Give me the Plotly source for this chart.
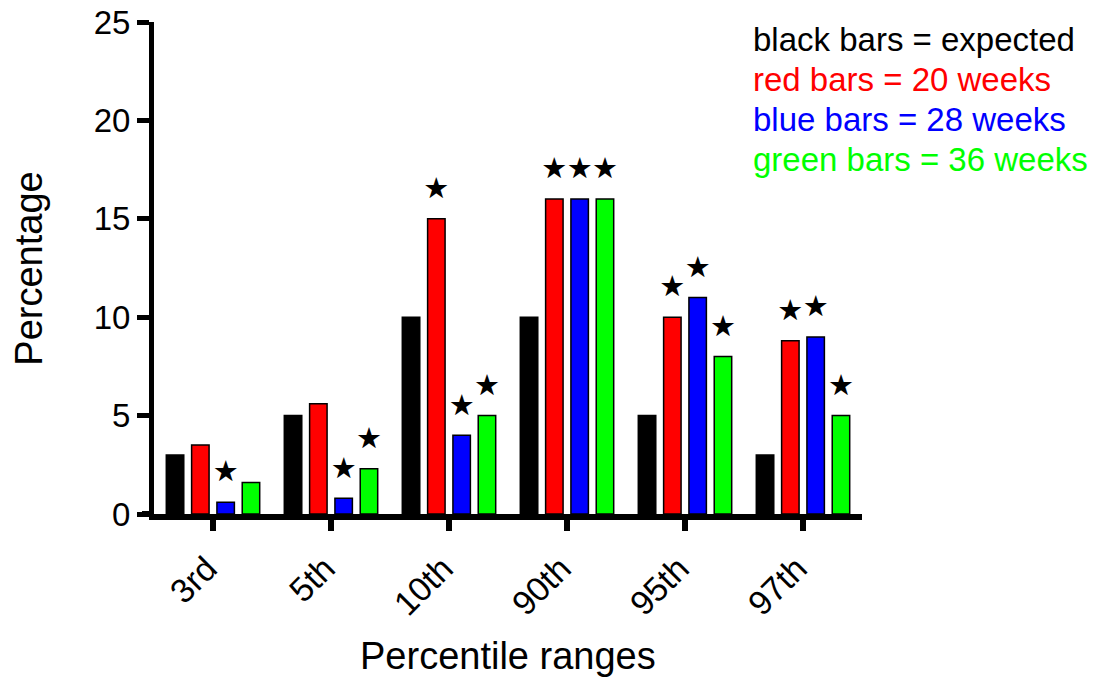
import plotly.graph_objects as go

categories = ["3rd", "5th", "10th", "90th", "95th", "97th"]
expected = [3, 5, 10, 10, 5, 3]
weeks20 = [3.5, 5.6, 15, 16, 10, 8.8]
weeks28 = [0.6, 0.8, 4, 16, 11, 9]
weeks36 = [1.6, 2.3, 5, 16, 8, 5]
star_expected = [0, 0, 0, 0, 0, 0]
star_20 = [0, 0, 1, 1, 1, 1]
star_28 = [1, 1, 1, 1, 1, 1]
star_36 = [0, 1, 1, 1, 1, 1]
y_ticks = [0, 5, 10, 15, 20, 25]
legend_lines = ["black bars = expected", "red bars = 20 weeks",
                "blue bars = 28 weeks", "green bars = 36 weeks"]

series = [
    ("expected", expected, star_expected, "#000000"),
    ("20 weeks", weeks20, star_20, "#FF0000"),
    ("28 weeks", weeks28, star_28, "#0000FF"),
    ("36 weeks", weeks36, star_36, "#00FF00"),
]

FONT = "Liberation Sans, Arial, sans-serif"

fig = go.Figure()
for i, (name, vals, stars, col) in enumerate(series):
    fig.add_trace(go.Bar(
        x=categories, y=vals, name=name,
        offsetgroup=str(i),
        marker=dict(color=col, line=dict(color="#000000", width=1.5)),
        showlegend=False,
    ))
for i, (name, vals, stars, col) in enumerate(series):
    fig.add_trace(go.Scatter(
        x=categories, y=[v if s else None for v, s in zip(vals, stars)],
        name=name + " significance",
        offsetgroup=str(i),
        mode="markers+text",
        marker=dict(size=20, color="rgba(0,0,0,0)"),
        text=["★" if s else "" for s in stars],
        textposition="top center",
        textfont=dict(size=29, color="#000000", family="DejaVu Sans"),
        cliponaxis=False,
        showlegend=False, hoverinfo="skip",
    ))

# the page body has an 8px margin, so margins are compensated
fig.update_layout(
    width=1100, height=690,
    margin=dict(l=146, r=246, t=14, b=184, autoexpand=False),
    paper_bgcolor="white", plot_bgcolor="white",
    barmode="group", bargap=0.142, bargroupgap=0.31,
    scattermode="group", scattergap=0.142,
    font=dict(family=FONT, color="#000000"),
    showlegend=False,
)
fig.update_xaxes(
    automargin=False,
    showline=True, linewidth=6, linecolor="#000000",
    ticks="outside", ticklen=11, tickwidth=6, tickcolor="#000000",
    tickangle=-45, tickfont=dict(size=34, family=FONT),
    ticklabelshift=-6, ticklabelstandoff=4, ticklabeloverflow="allow",
    showgrid=False, zeroline=False,
)
fig.update_yaxes(
    automargin=False,
    range=[0, 25], tickvals=y_ticks,
    showline=True, linewidth=5, linecolor="#000000",
    ticks="outside", ticklen=12, tickwidth=5, tickcolor="#000000",
    tickfont=dict(size=33, family=FONT), ticklabeloverflow="allow",
    showgrid=False, zeroline=False,
)
# extend x axis line to the left, as in the reference
fig.add_shape(type="line", xref="paper", yref="paper",
              x0=-12 / 708, x1=0, y0=0, y1=0,
              line=dict(color="#000000", width=6))

fig.add_annotation(text="Percentile ranges", xref="paper", yref="paper",
                   x=0.5, y=-0.2886, xanchor="center", yanchor="middle",
                   showarrow=False, font=dict(size=38, family=FONT))
fig.add_annotation(text="Percentage", xref="paper", yref="paper",
                   x=-0.177, y=0.498, xanchor="center", yanchor="middle",
                   showarrow=False, textangle=-90,
                   font=dict(size=38, family=FONT))

legend_y = [0.9654, 0.8841, 0.8028, 0.7215]
for (name, vals, stars, col), txt, yy in zip(series, legend_lines, legend_y):
    fig.add_annotation(text=txt, xref="paper", yref="paper",
                       x=0.843, y=yy, xanchor="left", yanchor="middle",
                       showarrow=False, font=dict(size=33, family=FONT, color=col))

fig.write_html("out.html")
